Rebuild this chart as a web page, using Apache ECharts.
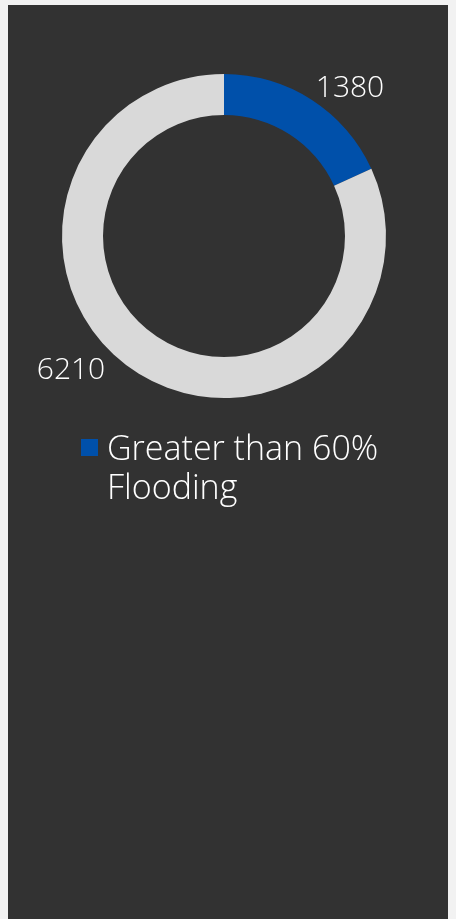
<!DOCTYPE html>
<html>
<head>
<meta charset="utf-8">
<script src="https://cdn.jsdelivr.net/npm/echarts@6/dist/echarts.min.js"></script>
<style>
  html, body { margin: 0; padding: 0; background: #f2f2f2; width: 456px; height: 919px; overflow: hidden; }
  #chart { position: absolute; left: 8px; top: 5px; width: 440px; height: 914px; background: #323232; }
</style>
</head>
<body>
<div id="chart"></div>
<script>
// Slice names and counts
const categories = ['Greater than 60%\nFlooding', 'Other'];
const counts = [1380, 6210];
const sliceColors = ['#0050aa', '#d9d9d9'];
const legendItems = ['Greater than 60%\nFlooding'];

// Value label placement, in chart pixels
const labelSpots = [[342, 83.5], [63, 365]];

const FONT = "'Century Gothic', 'Open Sans', 'DejaVu Sans', sans-serif";
const LEGEND_LINE = 39;

const chart = echarts.init(document.getElementById('chart'), null, { renderer: 'canvas' });

chart.setOption({
  backgroundColor: '#323232',
  animation: false,
  legend: {
    data: legendItems,
    left: 73,
    top: 381,
    padding: 0,
    orient: 'vertical',
    icon: 'rect',
    itemWidth: 17,
    itemHeight: 17,
    selectedMode: false,
    // a blank leading line keeps the swatch level with the first text line
    formatter: name => '{lead|}\n' + name.split('\n').map(s => '{gap|}' + s).join('\n'),
    textStyle: {
      color: '#ffffff',
      fontFamily: FONT,
      fontWeight: 300,
      fontSize: 34,
      lineHeight: LEGEND_LINE,
      rich: {
        lead: { lineHeight: LEGEND_LINE + 6, fontSize: 34 },
        gap: { width: 4, fontSize: 34, lineHeight: LEGEND_LINE }
      }
    }
  },
  series: [{
    type: 'pie',
    center: [216, 231],
    radius: [121, 162],
    startAngle: 90,
    clockwise: true,
    silent: true,
    label: {
      show: true,
      position: 'outside',
      formatter: p => String(p.value),
      color: '#ffffff',
      fontFamily: FONT,
      fontWeight: 300,
      fontSize: 30
    },
    labelLine: { show: false },
    labelLayout: function (params) {
      const spot = labelSpots[params.dataIndex];
      return { x: spot[0], y: spot[1], align: 'center', verticalAlign: 'middle' };
    },
    data: categories.map((name, i) => ({
      name: name,
      value: counts[i],
      itemStyle: { color: sliceColors[i] }
    }))
  }]
});
</script>
</body>
</html>
